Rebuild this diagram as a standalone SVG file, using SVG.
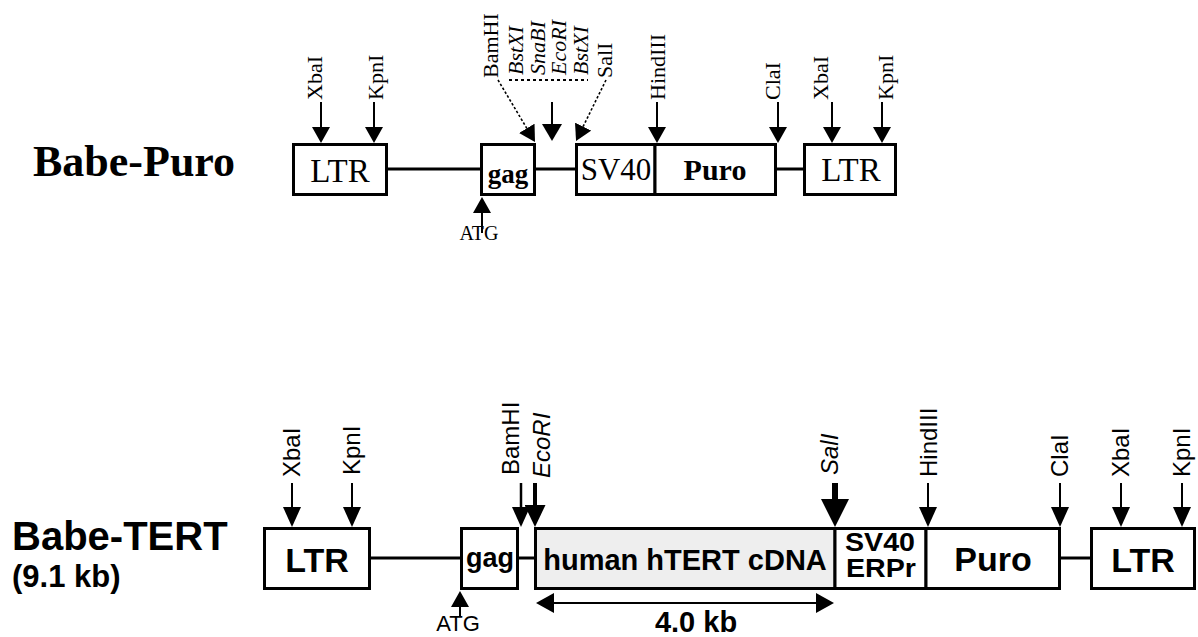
<svg xmlns="http://www.w3.org/2000/svg" width="1198" height="637" viewBox="0 0 1198 637">
<style>
.bx{fill:#fff;stroke:#000;stroke-width:3}
.gr{fill:#eeeeee}
.ln{stroke:#000;stroke-width:3;fill:none}
.sh{stroke:#000;stroke-width:2;fill:none}
.dt{stroke:#000;stroke-width:1.6;fill:none;stroke-dasharray:2.5 2}
.s{font-family:"Liberation Serif","Times New Roman",serif;fill:#000}
.a{font-family:"Liberation Sans",Arial,sans-serif;fill:#000}
.b{font-weight:bold}
.i{font-style:italic}
.m{text-anchor:middle}
.sl{font-size:22px}
.al{font-size:24px}
</style>
<defs>
<marker id="hT" viewBox="0 0 16 18" refX="0" refY="9" markerWidth="16" markerHeight="18" markerUnits="userSpaceOnUse" orient="auto"><path d="M0,0L16,9L0,18z"/></marker>
<marker id="hM" viewBox="0 0 17 20" refX="0" refY="10" markerWidth="17" markerHeight="20" markerUnits="userSpaceOnUse" orient="auto"><path d="M0,0L17,10L0,20z"/></marker>
<marker id="hB" viewBox="0 0 20 18" refX="0" refY="9" markerWidth="20" markerHeight="18" markerUnits="userSpaceOnUse" orient="auto"><path d="M0,0L20,9L0,18z"/></marker>
<marker id="hE" viewBox="0 0 22 21" refX="0" refY="10.5" markerWidth="22" markerHeight="21" markerUnits="userSpaceOnUse" orient="auto"><path d="M0,0L22,10.5L0,21z"/></marker>
<marker id="hS" viewBox="0 0 28 28" refX="0" refY="14" markerWidth="28" markerHeight="28" markerUnits="userSpaceOnUse" orient="auto"><path d="M0,0L28,14L0,28z"/></marker>
<marker id="hD" viewBox="0 0 18 20" refX="0" refY="10" markerWidth="18" markerHeight="20" markerUnits="userSpaceOnUse" orient="auto-start-reverse"><path d="M0,0L18,10L0,20z"/></marker>
</defs>

<!-- ===== Top: Babe-Puro ===== -->
<g id="title-puro"><text class="s b" x="33" y="176" font-size="44">Babe-Puro</text></g>

<g id="connectors">
  <line class="ln" x1="388" y1="169" x2="480" y2="169"/>
  <line class="ln" x1="536" y1="169" x2="575" y2="169"/>
  <line class="ln" x1="777" y1="169" x2="803" y2="169"/>
  <line class="sh" x1="321" y1="102" x2="321" y2="127" marker-end="url(#hT)"/>
  <line class="sh" x1="374" y1="102" x2="374" y2="127" marker-end="url(#hT)"/>
  <line class="sh" x1="552" y1="102" x2="552" y2="124" marker-end="url(#hM)"/>
  <line class="sh" x1="657" y1="102" x2="657" y2="127" marker-end="url(#hT)"/>
  <line class="sh" x1="778" y1="102" x2="778" y2="127" marker-end="url(#hT)"/>
  <line class="sh" x1="832" y1="102" x2="832" y2="127" marker-end="url(#hT)"/>
  <line class="sh" x1="882" y1="102" x2="882" y2="127" marker-end="url(#hT)"/>
  <line class="dt" x1="498" y1="80" x2="526.8" y2="128.3" marker-end="url(#hT)"/>
  <line class="dt" x1="606" y1="80" x2="583.1" y2="126.6" marker-end="url(#hT)"/>
  <line stroke="#000" stroke-width="2" stroke-dasharray="3 3" x1="509" y1="80" x2="588" y2="80"/>
  <line class="sh" x1="482" y1="233" x2="482" y2="213" marker-end="url(#hT)"/>

  <line class="ln" x1="370" y1="558" x2="460" y2="558"/>
  <line class="ln" x1="519" y1="558" x2="534" y2="558"/>
  <line class="ln" x1="1061" y1="558" x2="1090" y2="558"/>
  <line class="sh" x1="292" y1="483" x2="292" y2="507" marker-end="url(#hB)"/>
  <line class="sh" x1="352" y1="483" x2="352" y2="507" marker-end="url(#hB)"/>
  <line stroke="#000" stroke-width="2.5" x1="521" y1="483" x2="521" y2="507" marker-end="url(#hB)"/>
  <line stroke="#000" stroke-width="4" x1="535" y1="483" x2="535" y2="505" marker-end="url(#hE)"/>
  <line stroke="#000" stroke-width="6" x1="835" y1="483" x2="835" y2="499" marker-end="url(#hS)"/>
  <line class="sh" x1="928" y1="483" x2="928" y2="507" marker-end="url(#hB)"/>
  <line class="sh" x1="1060" y1="483" x2="1060" y2="507" marker-end="url(#hB)"/>
  <line class="sh" x1="1121" y1="483" x2="1121" y2="507" marker-end="url(#hB)"/>
  <line class="sh" x1="1182" y1="483" x2="1182" y2="507" marker-end="url(#hB)"/>
  <line class="sh" x1="460" y1="616" x2="460" y2="607" marker-end="url(#hT)"/>
  <line class="sh" x1="554" y1="603" x2="816" y2="603" marker-start="url(#hD)" marker-end="url(#hD)"/>
</g>

<g id="top-ltr1"><rect class="bx" x="293.5" y="144.5" width="93" height="50"/><text class="s m" x="340" y="182" font-size="33">LTR</text></g>
<g id="top-gag"><rect class="bx" x="481.5" y="144.5" width="53" height="50"/><text class="s b m" x="508" y="183" font-size="27">gag</text></g>
<g id="top-sv40"><rect class="bx" x="576.5" y="144.5" width="78.5" height="50"/><text class="s m" x="616" y="180" font-size="31">SV40</text></g>
<g id="top-puro"><rect class="bx" x="655" y="144.5" width="120.5" height="50"/><text class="s b m" x="715" y="180" font-size="30">Puro</text></g>
<g id="top-ltr2"><rect class="bx" x="804.5" y="144.5" width="91" height="50"/><text class="s m" x="851" y="181" font-size="33">LTR</text></g>

<g id="top-sites">
  <text class="s sl" transform="translate(322,100) rotate(-90)">XbaI</text>
  <text class="s sl" transform="translate(383,100) rotate(-90)">KpnI</text>
  <text class="s sl" transform="translate(498,78) rotate(-90)">BamHI</text>
  <text class="s sl i" transform="translate(523,75) rotate(-90)">BstXI</text>
  <text class="s sl i" transform="translate(545,75) rotate(-90)">SnaBI</text>
  <text class="s sl i" transform="translate(566,75) rotate(-90)">EcoRI</text>
  <text class="s sl i" transform="translate(588,75) rotate(-90)">BstXI</text>
  <text class="s sl" transform="translate(612,78) rotate(-90)">SalI</text>
  <text class="s sl" transform="translate(665,100) rotate(-90)">HindIII</text>
  <text class="s sl" transform="translate(780,100) rotate(-90)">ClaI</text>
  <text class="s sl" transform="translate(828,100) rotate(-90)">XbaI</text>
  <text class="s sl" transform="translate(893,100) rotate(-90)">KpnI</text>
  <text class="s m" x="479" y="240" font-size="20">ATG</text>
</g>

<!-- ===== Bottom: Babe-TERT ===== -->
<g id="title-tert">
  <text class="a b" x="12" y="550" font-size="40">Babe-TERT</text>
  <text class="a b" x="12" y="587" font-size="31">(9.1 kb)</text>
</g>

<g id="bot-ltr1"><rect class="bx" x="264.5" y="528.5" width="105" height="60"/><text class="a b m" x="317" y="572" font-size="34">LTR</text></g>
<g id="bot-gag"><rect class="bx" x="461.5" y="528.5" width="56" height="60"/><text class="a b m" x="490" y="567" font-size="27">gag</text></g>
<g id="bot-cdna"><rect class="bx gr" x="535.5" y="528.5" width="299.5" height="60"/><text class="a b m" x="685" y="570" font-size="29">human hTERT cDNA</text></g>
<g id="bot-sv40"><rect class="bx" x="835" y="528.5" width="91" height="60"/><text class="a b m" x="880" y="551" font-size="25" textLength="70" lengthAdjust="spacingAndGlyphs">SV40</text><text class="a b m" x="881" y="577" font-size="25" textLength="70" lengthAdjust="spacingAndGlyphs">ERPr</text></g>
<g id="bot-puro"><rect class="bx" x="926" y="528.5" width="133.5" height="60"/><text class="a b m" x="993" y="571" font-size="34">Puro</text></g>
<g id="bot-ltr2"><rect class="bx" x="1091.5" y="528.5" width="103" height="60"/><text class="a b m" x="1143" y="572" font-size="34">LTR</text></g>

<g id="bot-sites">
  <text class="a al" transform="translate(300,477) rotate(-90)">XbaI</text>
  <text class="a al" transform="translate(360,475) rotate(-90)">KpnI</text>
  <text class="a al" transform="translate(519,475) rotate(-90)">BamHI</text>
  <text class="a al i" transform="translate(550,478) rotate(-90)">EcoRI</text>
  <text class="a al i" transform="translate(838,475) rotate(-90)">SalI</text>
  <text class="a al" transform="translate(937,477) rotate(-90)">HindIII</text>
  <text class="a al" transform="translate(1068,477) rotate(-90)">ClaI</text>
  <text class="a al" transform="translate(1129,477) rotate(-90)">XbaI</text>
  <text class="a al" transform="translate(1190,477) rotate(-90)">KpnI</text>
  <text class="a m" x="458" y="631" font-size="22">ATG</text>
  <text class="a b m" x="696" y="632" font-size="29">4.0 kb</text>
</g>
</svg>
